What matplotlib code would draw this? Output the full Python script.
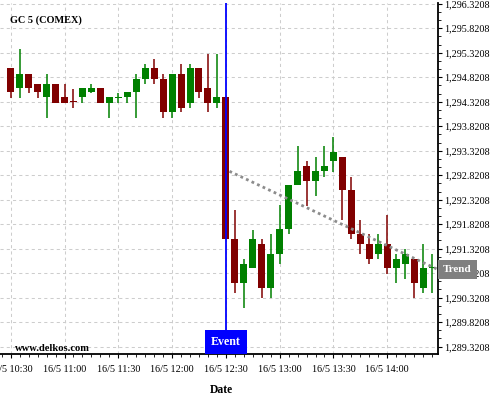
import numpy as np
import matplotlib
matplotlib.use('Agg')
import matplotlib.pyplot as plt
from matplotlib.ticker import FixedLocator, FuncFormatter, MultipleLocator

plt.rcParams['font.family'] = ['Liberation Serif', 'DejaVu Serif']

# 5 minute candles, GC 5 (COMEX), 16/5
times = ["10:30", "10:35", "10:40", "10:45", "10:50", "10:55",
         "11:00", "11:05", "11:10", "11:15", "11:20", "11:25",
         "11:30", "11:35", "11:40", "11:45", "11:50", "11:55",
         "12:00", "12:05", "12:10", "12:15", "12:20", "12:25",
         "12:30", "12:35", "12:40", "12:45", "12:50", "12:55",
         "13:00", "13:05", "13:10", "13:15", "13:20", "13:25",
         "13:30", "13:35", "13:40", "13:45", "13:50", "13:55",
         "14:00", "14:05", "14:10", "14:15", "14:20", "14:25"]
opens = [1295.00, 1294.59, 1294.89, 1294.69, 1294.41, 1294.69,
         1294.41, 1294.32, 1294.41, 1294.51, 1294.59, 1294.30,
         1294.40, 1294.41, 1294.51, 1294.79, 1295.00, 1294.79,
         1294.10, 1294.89, 1294.30, 1295.00, 1294.59, 1294.30,
         1294.41, 1291.51, 1290.62, 1290.93, 1291.41, 1290.52,
         1291.21, 1291.72, 1292.61, 1293.00, 1292.71, 1292.90,
         1293.10, 1293.20, 1292.51, 1291.61, 1291.42, 1291.21,
         1291.42, 1290.92, 1291.00, 1291.11, 1290.52, 1290.92]
highs = [1295.00, 1295.40, 1294.89, 1294.69, 1294.89, 1294.69,
         1294.68, 1294.58, 1294.59, 1294.68, 1294.59, 1294.41,
         1294.50, 1294.51, 1294.89, 1295.10, 1295.20, 1294.89,
         1294.89, 1295.10, 1295.10, 1295.00, 1295.30, 1295.30,
         1294.41, 1292.10, 1291.10, 1291.71, 1291.51, 1291.61,
         1292.21, 1292.61, 1293.41, 1293.10, 1293.20, 1293.41,
         1293.61, 1293.20, 1292.79, 1291.90, 1291.61, 1291.61,
         1292.00, 1291.21, 1291.31, 1291.11, 1291.41, 1291.21]
lows = [1294.40, 1294.40, 1294.49, 1294.40, 1293.99, 1294.29,
        1294.29, 1294.20, 1294.30, 1294.49, 1294.29, 1293.99,
        1294.30, 1294.30, 1293.99, 1294.68, 1294.68, 1293.99,
        1293.99, 1294.10, 1294.20, 1294.40, 1294.10, 1294.20,
        1291.52, 1290.41, 1290.10, 1290.92, 1290.31, 1290.31,
        1291.00, 1291.61, 1292.61, 1292.19, 1292.39, 1292.79,
        1292.89, 1291.90, 1291.51, 1291.21, 1291.00, 1291.10,
        1290.81, 1290.61, 1290.71, 1290.31, 1290.41, 1290.41]
closes = [1294.51, 1294.89, 1294.59, 1294.51, 1294.69, 1294.30,
          1294.30, 1294.30, 1294.59, 1294.59, 1294.30, 1294.41,
          1294.42, 1294.51, 1294.79, 1295.00, 1294.79, 1294.10,
          1294.89, 1294.20, 1295.00, 1294.51, 1294.30, 1294.41,
          1291.52, 1290.62, 1291.00, 1291.51, 1290.52, 1291.21,
          1291.72, 1292.61, 1292.90, 1292.71, 1292.90, 1293.00,
          1293.30, 1292.51, 1291.62, 1291.42, 1291.11, 1291.42,
          1290.92, 1291.11, 1291.21, 1290.62, 1290.92, 1290.93]

event_time = "12:30"
trend_times = ["12:32", "14:28"]
trend_values = [1292.90, 1290.90]


def to_min(t):
    h, m = t.split(':')
    return int(h) * 60 + int(m)


x = np.array([to_min(t) for t in times], dtype=float)
o = np.array(opens)
h = np.array(highs)
l = np.array(lows)
c = np.array(closes)
up = c >= o
cols = np.where(up, '#008000', '#800000')

fig = plt.figure(figsize=(5, 4), dpi=100)
ax = fig.add_axes([0.0, 0.1143, 0.8766, 0.8782])

ax.vlines(x, l, h, colors=cols, linewidth=1.1, zorder=3)
body = np.where(np.abs(c - o) < 0.02, 0.02, c - o)
ax.bar(x, body, bottom=o, width=3.9, color=cols, linewidth=0, zorder=4)

# trend
tx = [to_min(t) for t in trend_times]
ax.plot(tx, trend_values, color='#8c8c8c', linewidth=2, linestyle=(0, (1, 1.2)),
        zorder=5, clip_on=False)

# event line + label
ex = to_min(event_time)
ax.axvline(ex, ymin=0.063, ymax=1, color='#0000ff', linewidth=1.3, zorder=6)
ax.annotate('Event', xy=(ex, 0), xycoords=('data', 'axes fraction'),
            xytext=(0, 4.3), textcoords='offset points', ha='center', va='bottom',
            color='white', fontsize=8.6, fontweight='bold', zorder=7,
            bbox=dict(boxstyle='square,pad=0.5', fc='#0000ff', ec='none'))
ax.annotate('Trend', xy=(1, trend_values[1]), xycoords=('axes fraction', 'data'),
            xytext=(3.6, 0), textcoords='offset points', ha='left', va='center',
            color='white', fontsize=8, fontweight='bold', zorder=10,
            annotation_clip=False,
            bbox=dict(boxstyle='square,pad=0.45', fc='#808080', ec='none'))

ax.set_xlim(624.0, 868.5)
ax.set_ylim(1289.165, 1296.335)

ax.xaxis.set_major_locator(MultipleLocator(30))
ax.xaxis.set_minor_locator(MultipleLocator(5))
ax.xaxis.set_major_formatter(FuncFormatter(
    lambda v, p: '16/5 %02d:%02d' % (int(v) // 60, int(v) % 60)))

yt = np.arange(1289.3208, 1296.4, 0.5)
ax.yaxis.set_major_locator(FixedLocator(yt))
ax.yaxis.set_minor_locator(FixedLocator(np.arange(1289.3208 - 0.5, 1296.4, 0.5 / 3)))
ax.yaxis.set_major_formatter(FuncFormatter(lambda v, p: '{:,.4f}'.format(v)))
ax.yaxis.tick_right()

ax.tick_params(axis='x', which='major', length=3, width=0.8, pad=5, labelsize=7.3)
ax.tick_params(axis='x', which='minor', length=2, width=0.6)
ax.tick_params(axis='y', which='major', length=3, width=0.8, pad=1.5, labelsize=7.3)
ax.tick_params(axis='y', which='minor', length=2, width=0.6)

for s in ['left', 'top']:
    ax.spines[s].set_visible(False)
ax.spines['right'].set_linewidth(1.3)
ax.spines['bottom'].set_linewidth(1.3)

ax.grid(True, which='major', color='#cdcdcd', linestyle=(0, (3, 3)), linewidth=0.75)
ax.set_axisbelow(True)

fig.text(10 / 500, 1 - 20 / 400, 'GC 5 (COMEX)', fontsize=7.4, fontweight='bold',
         va='center', ha='left')
fig.text(15 / 500, 1 - 348.5 / 400, 'www.delkos.com', fontsize=7.6, fontweight='bold',
         va='center', ha='left')
fig.text(221 / 500, 1 - 390 / 400, 'Date', fontsize=8.4, fontweight='bold',
         va='center', ha='center')

fig.savefig('out.png', dpi=100)
